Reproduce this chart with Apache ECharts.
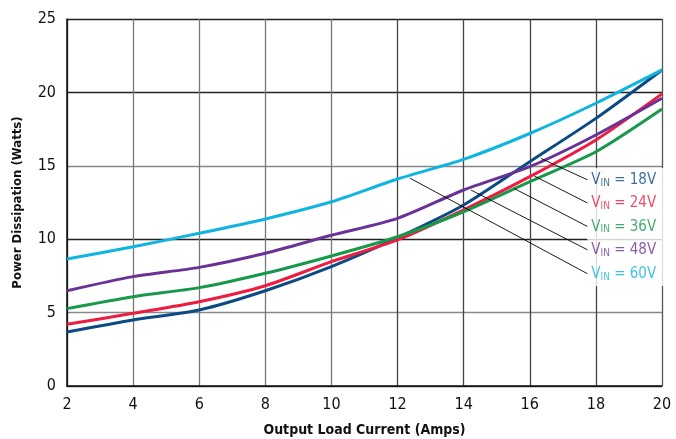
<!DOCTYPE html>
<html>
<head>
<meta charset="utf-8">
<script src="https://cdn.jsdelivr.net/npm/echarts@6/dist/echarts.min.js"></script>
<style>
html,body{margin:0;padding:0;background:#fff;}
#c{width:676px;height:439px;}
</style>
</head>
<body>
<div id="c"></div>
<script>
const xValues = [2, 4, 6, 8, 10, 12, 14, 16, 18, 20];
const v18 = [3.68, 4.5, 5.18, 6.49, 8.13, 10.1, 12.33, 15.28, 18.23, 21.53];
const v24 = [4.2, 4.95, 5.74, 6.83, 8.47, 9.95, 12.0, 14.26, 16.76, 19.9];
const v36 = [5.27, 6.08, 6.7, 7.68, 8.86, 10.17, 11.87, 13.92, 15.96, 18.87];
const v48 = [6.49, 7.45, 8.08, 9.04, 10.27, 11.42, 13.35, 14.94, 17.1, 19.6];
const v60 = [8.65, 9.49, 10.4, 11.38, 12.55, 14.1, 15.44, 17.2, 19.26, 21.53];
const seriesNames = ['18V', '24V', '36V', '48V', '60V'];
const seriesColors = ['#0b4a84', '#ee1c40', '#17994b', '#6a3296', '#10b4e0'];
// leader lines: [start on curve, end near label] in data coords
const leaderStart = [[16.34, 15.5], [16.14, 14.3], [15.53, 13.45], [14.22, 13.35], [12.38, 14.15]];
const leaderEnd = [[17.76, 14.03], [17.76, 12.45], [17.76, 10.85], [17.76, 9.26], [17.76, 7.63]];
const labelAnchor = [[17.74, 14.03], [17.74, 12.45], [17.74, 10.85], [17.74, 9.26], [17.74, 7.63]];

const FONT = '"DejaVu Sans Condensed", "Liberation Sans Narrow", "Liberation Sans", Arial, sans-serif';
const allValues = [v18, v24, v36, v48, v60];

const chart = echarts.init(document.getElementById('c'), null, {renderer: 'canvas'});

const lineSeries = allValues.map((vals, i) => ({
  type: 'line',
  name: seriesNames[i],
  data: xValues.map((x, j) => [x, vals[j]]),
  smooth: 0.25,
  showSymbol: false,
  symbol: 'none',
  lineStyle: {color: seriesColors[i], width: 3},
  z: 3
}));

const leaderSeries = {
  type: 'lines',
  coordinateSystem: 'cartesian2d',
  data: leaderStart.map((s, i) => ({coords: [s, leaderEnd[i]]})),
  lineStyle: {color: '#000', width: 0.9, opacity: 1},
  silent: true,
  z: 4
};

const labelSeries = {
  type: 'scatter',
  symbolSize: 0,
  silent: true,
  z: 5,
  data: labelAnchor.map((p, i) => ({
    value: p,
    label: {
      show: true,
      position: 'right',
      distance: 0,
      formatter: '{v|V}{s|IN}{v| = ' + seriesNames[i] + '}',
      backgroundColor: '#fff',
      padding: [4, 8, 4, 4],
      rich: {
        v: {fontFamily: FONT, fontSize: 15, color: seriesColors[i], lineHeight: 16},
        s: {fontFamily: FONT, fontSize: 10, color: seriesColors[i], lineHeight: 16, verticalAlign: 'bottom'}
      }
    }
  }))
};

chart.setOption({
  animation: false,
  backgroundColor: '#fff',
  grid: {left: 67, right: 14, top: 19, bottom: 53, outerBoundsMode: 'none', containLabel: false},
  xAxis: {
    type: 'value',
    min: 2, max: 20, interval: 2,
    name: 'Output Load Current (Amps)',
    nameLocation: 'middle',
    nameGap: 37,
    nameTextStyle: {fontFamily: FONT, fontSize: 14, fontWeight: 'bold', color: '#111'},
    axisLine: {show: true, lineStyle: {color: '#111', width: 1.5}},
    axisTick: {show: false},
    axisLabel: {fontFamily: FONT, fontSize: 16, color: '#111', margin: 11},
    splitLine: {show: true, lineStyle: {color: ['#222', '#777', '#777', '#777', '#777', '#444', '#444', '#444', '#444', '#555'], width: 1.3}}
  },
  yAxis: {
    type: 'value',
    min: 0, max: 25, interval: 5,
    name: 'Power Dissipation (Watts)',
    nameLocation: 'middle',
    nameGap: 43,
    nameTextStyle: {fontFamily: FONT, fontSize: 13, fontWeight: 'bold', color: '#111'},
    axisLine: {show: true, lineStyle: {color: '#111', width: 1.5}},
    axisTick: {show: false},
    axisLabel: {fontFamily: FONT, fontSize: 16, color: '#111', margin: 11},
    splitLine: {show: true, lineStyle: {color: ['#333', '#888', '#222', '#888', '#222', '#222'], width: 1.3}}
  },
  series: [...lineSeries, leaderSeries, labelSeries]
});
</script>
</body>
</html>
